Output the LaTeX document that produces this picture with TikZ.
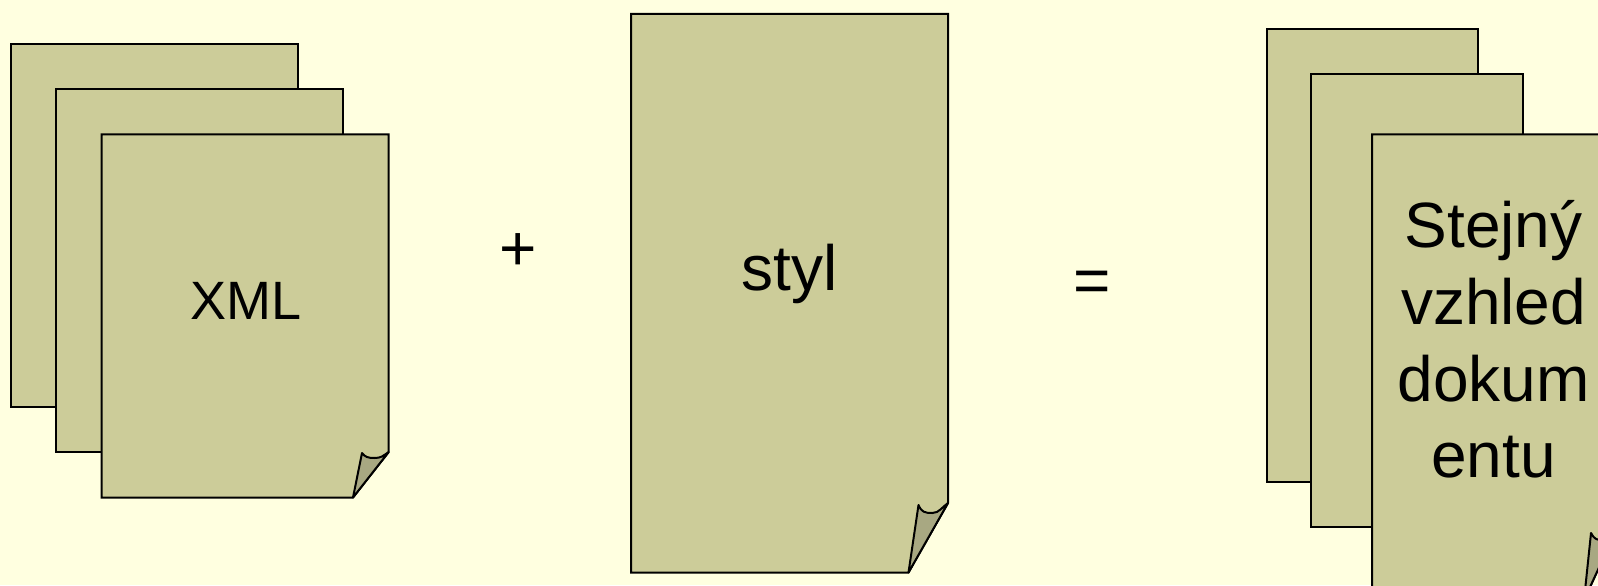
\documentclass[tikz,border=0pt]{standalone}
\usepackage{fontspec}
\setmainfont{Liberation Sans}
\definecolor{bgc}{HTML}{FFFFE0}
\definecolor{pagec}{HTML}{CCCC99}
\definecolor{foldc}{HTML}{A8A882}
\tikzset{
  pageshape/.style={draw=black,fill=pagec,line width=1.5pt,line join=miter},
  foldshape/.style={draw=black,fill=foldc,line width=1.5pt,line join=round},
  lab/.style={inner sep=0pt,align=center,text=black},
  big/.style={font=\fontsize{48}{57.5}\selectfont},
  mid/.style={font=\fontsize{40.5}{48}\selectfont}
}
% #1 left #2 top #3 right #4 bottom #5 fold x on bottom #6 fold y on right #7 tip x #8 tip y #9 curve-low y
\newcommand{\curlpage}[9]{%
  \draw[pageshape] (#1,#2) -- (#3,#2) -- (#3,#6) -- (#5,#4) -- (#1,#4) -- cycle;
  \draw[foldshape] (#5,#4) -- (#7,#8) .. controls ({#7+3},{#9-1}) and ({#7+6},{#9}) .. ({(#7+#3)/2-1},#9) .. controls ({(#7+#3)/2+6},#9) and ({#3-6},{#6+4}) .. (#3,#6) -- cycle;
}
\begin{document}
\begin{tikzpicture}[x=0.75pt,y=-0.75pt]
\useasboundingbox (0,0) rectangle (1598,585);
\fill[bgc] (0,0) rectangle (1598,585);
% left stack
\draw[pageshape] (11,44) rectangle (298,406.5);
\draw[pageshape] (56,89) rectangle (343,452);
\curlpage{101.5}{134.3}{388.7}{497.5}{353}{452}{362}{453}{458}
\node[lab,mid] (xml) at (246,301) {XML};
\node[lab,big] (plus) at (518,252) {+};
% middle
\curlpage{631}{13.8}{948}{572.5}{908.5}{503}{918.5}{505}{513}
\node[lab,big] (styl) at (789.5,274) {styl};
\node[lab,big] (eq) at (1092.5,287) {=};
% right stack
\draw[pageshape] (1267,29) rectangle (1478,482);
\draw[pageshape] (1311,74) rectangle (1523,527);
\curlpage{1372}{134.3}{1614}{600}{1584}{535}{1591}{533}{540}
\node[lab,big] (same) at (1493.5,339.5) {Stejný\\vzhled\\dokum\\entu};
\end{tikzpicture}
\end{document}
